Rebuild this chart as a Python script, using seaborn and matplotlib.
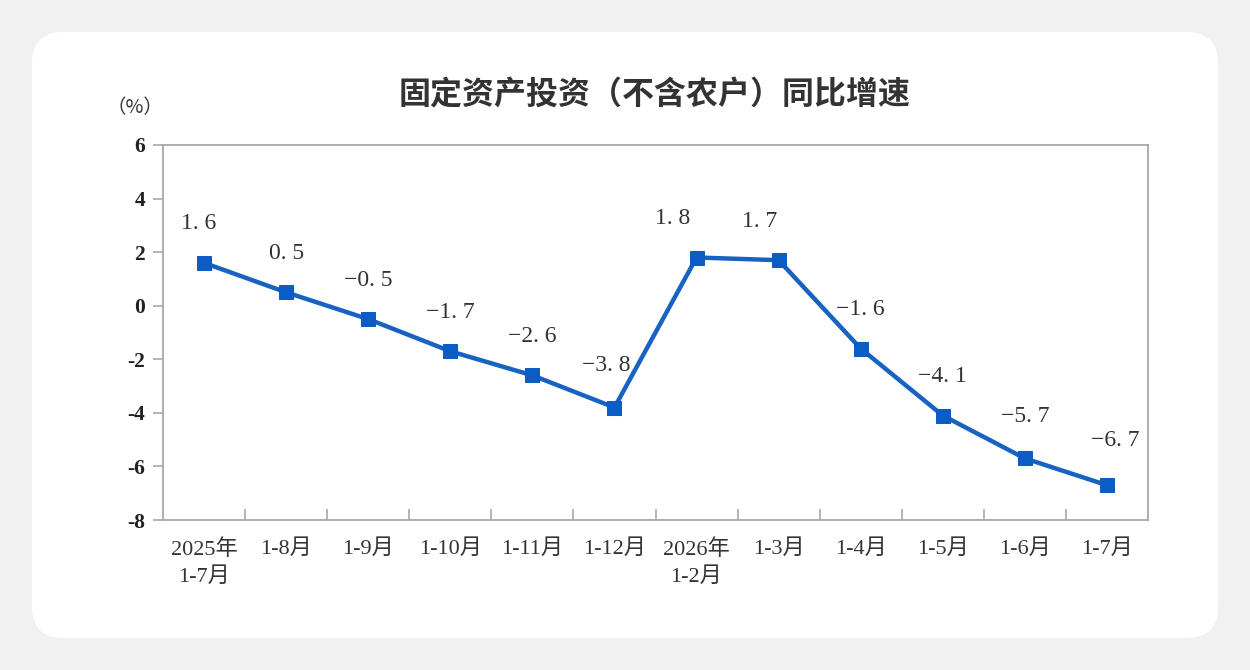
import matplotlib
matplotlib.use("Agg")
import matplotlib.pyplot as plt
from matplotlib.patches import FancyBboxPatch
from matplotlib.ticker import FixedLocator
import seaborn as sns
import pandas as pd

categories = ["2025年\n1-7月", "1-8月", "1-9月", "1-10月", "1-11月", "1-12月",
              "2026年\n1-2月", "1-3月", "1-4月", "1-5月", "1-6月", "1-7月"]
values = [1.6, 0.5, -0.5, -1.7, -2.6, -3.8, 1.8, 1.7, -1.6, -4.1, -5.7, -6.7]
yticks = [-8, -6, -4, -2, 0, 2, 4, 6]
title = "固定资产投资（不含农户）同比增速"
unit = "（%）"

sns.set_theme(style="white")
serif = ["Liberation Serif", "Noto Sans CJK SC", "DejaVu Sans"]
plt.rcParams["font.family"] = serif
plt.rcParams["axes.unicode_minus"] = True

fig = plt.figure(figsize=(12.5, 6.7), dpi=100)
fig.patch.set_facecolor("#f1f1f1")
card = FancyBboxPatch((32 / 1250, 32 / 670), (1218 - 32) / 1250, (638 - 32) / 670,
                      boxstyle="round,pad=0,rounding_size=0.025",
                      transform=fig.transFigure, facecolor="white",
                      edgecolor="none", mutation_aspect=1250 / 670, zorder=-5)
fig.patches.append(card)

ax = fig.add_axes([163 / 1250, 1 - 520 / 670, (1148 - 163) / 1250, (520 - 145) / 670])
ax.set_zorder(2)
ax.set_facecolor("white")

df = pd.DataFrame({"idx": range(len(values)), "val": values})
blue = "#0b5cc4"
sns.lineplot(data=df, x="idx", y="val", ax=ax, color="#1862c2", linewidth=3.2,
             marker="s", markersize=10.5, markerfacecolor=blue,
             markeredgecolor=blue, zorder=3)

ax.set_xlim(-0.5, len(values) - 0.5)
ax.set_ylim(-8, 6)
ax.set_yticks(yticks)
ax.set_yticklabels([str(t) if t >= 0 else "-" + str(-t) for t in yticks])
ax.set_xticks(range(len(values)))
ax.set_xticklabels(categories, fontsize=16, color="#333333", linespacing=1.5)
ax.xaxis.set_minor_locator(FixedLocator([i + 0.5 for i in range(len(values) - 1)]))
ax.tick_params(axis="x", which="major", length=0, pad=14)
ax.tick_params(axis="x", which="minor", direction="in", length=8, width=1.2,
               color="#a8a8a8", bottom=True)
ax.tick_params(axis="y", which="major", direction="out", length=7, width=1.2,
               color="#a8a8a8", labelsize=15.5, labelcolor="#222222", pad=6, left=True)
for lab in ax.get_yticklabels():
    lab.set_fontweight("bold")
ax.set_xlabel("")
ax.set_ylabel("")
for sp in ax.spines.values():
    sp.set_visible(True)
    sp.set_color("#a8a8a8")
    sp.set_linewidth(1.3)

label_dx = [-4, 0, 0, 0, 0, -6, -17, -14, 0, 0, 0, 6]
label_dy = [28, 28, 28, 28, 28, 30, 28, 28, 28, 28, 30, 32]
for i, v in enumerate(values):
    s = f"{abs(v):.1f}".replace(".", ". ")
    if v < 0:
        s = "−" + s
    ax.annotate(s, (i, v), xytext=(label_dx[i], label_dy[i]),
                textcoords="offset points", ha="center", va="center",
                fontsize=17, color="#333333", zorder=4)

fig.text(655 / 1250, 1 - 95 / 670, title, ha="center", va="center",
         fontsize=23, fontweight="bold", color="#333333",
         family=["Noto Sans CJK SC", "DejaVu Sans"])
fig.text(135 / 1250, 1 - 108 / 670, unit, ha="center", va="center",
         fontsize=14, color="#333333", family=["Noto Sans CJK SC", "DejaVu Sans"])

fig.savefig("out.png", dpi=100, facecolor=fig.get_facecolor())
